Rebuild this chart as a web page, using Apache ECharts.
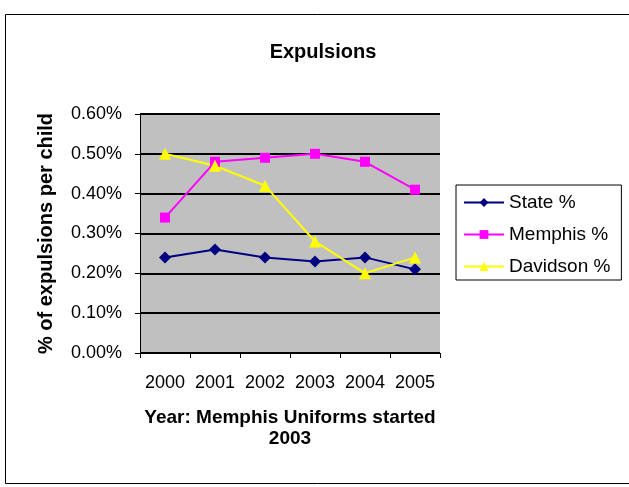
<!DOCTYPE html>
<html>
<head>
<meta charset="utf-8">
<script src="https://cdn.jsdelivr.net/npm/echarts@6/dist/echarts.min.js"></script>
<style>
  html, body { margin: 0; padding: 0; background: #fff; }
  #chart { width: 629px; height: 487px; }
</style>
</head>
<body>
<div id="chart"></div>
<script>
// Expulsion rates per child, in percent
const years = ['2000', '2001', '2002', '2003', '2004', '2005'];
const statePct = [0.24, 0.26, 0.24, 0.23, 0.24, 0.21];
const memphisPct = [0.34, 0.48, 0.49, 0.50, 0.48, 0.41];
const davidsonPct = [0.50, 0.47, 0.42, 0.28, 0.20, 0.24];

const FONT = 'Liberation Sans, Arial, sans-serif';

const chart = echarts.init(document.getElementById('chart'), null, { renderer: 'canvas' });

chart.setOption({
  animation: false,
  backgroundColor: '#fff',
  textStyle: { fontFamily: FONT },
  title: {
    text: 'Expulsions',
    left: 318,
    top: 37,
    textAlign: 'center',
    textStyle: { fontFamily: FONT, fontSize: 20, fontWeight: 'bold', color: '#000' }
  },
  graphic: [{
    type: 'rect',
    shape: { x: 5.5, y: 14.5, width: 640, height: 469 },
    style: { fill: null, stroke: '#000', lineWidth: 1 },
    silent: true
  }],
  legend: {
    orient: 'vertical',
    left: 456,
    top: 185,
    padding: [8, 11, 4, 7],
    itemGap: 13,
    itemWidth: 40,
    itemHeight: 11,
    borderColor: '#000',
    borderWidth: 1,
    textStyle: { fontFamily: FONT, fontSize: 19, color: '#000' },
    data: ['State %', 'Memphis %', 'Davidson %']
  },
  grid: { left: 140, top: 114, width: 300, height: 239, show: true, backgroundColor: '#c0c0c0', borderWidth: 0 },
  xAxis: {
    type: 'category',
    data: years,
    boundaryGap: true,
    name: 'Year: Memphis Uniforms started\n2003',
    nameLocation: 'middle',
    nameGap: 54,
    nameTextStyle: { fontFamily: FONT, fontSize: 19, fontWeight: 'bold', color: '#000', lineHeight: 21 },
    axisLine: { lineStyle: { color: '#000', width: 1 } },
    axisTick: { show: true, interval: 0, length: 5, alignWithLabel: false, lineStyle: { color: '#000' } },
    axisLabel: { interval: 0, hideOverlap: false, fontFamily: FONT, fontSize: 18, color: '#000', margin: 21 },
    splitLine: { show: false }
  },
  yAxis: {
    type: 'value',
    min: 0,
    max: 0.6,
    interval: 0.1,
    name: '% of expulsions per child',
    nameLocation: 'middle',
    nameGap: 84,
    nameRotate: 90,
    nameTextStyle: { fontFamily: FONT, fontSize: 20, fontWeight: 'bold', color: '#000' },
    axisLine: { show: true, lineStyle: { color: '#000', width: 1 } },
    axisTick: { show: true, length: 5, lineStyle: { color: '#000' } },
    axisLabel: {
      fontFamily: FONT, fontSize: 18, color: '#000', margin: 18,
      formatter: v => v.toFixed(2) + '%'
    },
    splitLine: { show: true, lineStyle: { color: '#000', width: 2 } }
  },
  series: [
    {
      name: 'State %',
      type: 'line',
      data: statePct,
      symbol: 'diamond',
      symbolSize: 12,
      itemStyle: { color: '#000080' },
      lineStyle: { color: '#000080', width: 2 }
    },
    {
      name: 'Memphis %',
      type: 'line',
      data: memphisPct,
      symbol: 'rect',
      symbolSize: 10,
      itemStyle: { color: '#ff00ff' },
      lineStyle: { color: '#ff00ff', width: 2 }
    },
    {
      name: 'Davidson %',
      type: 'line',
      data: davidsonPct,
      symbol: 'triangle',
      symbolSize: 12,
      itemStyle: { color: '#ffff00' },
      lineStyle: { color: '#ffff00', width: 2 }
    }
  ]
});
</script>
</body>
</html>
